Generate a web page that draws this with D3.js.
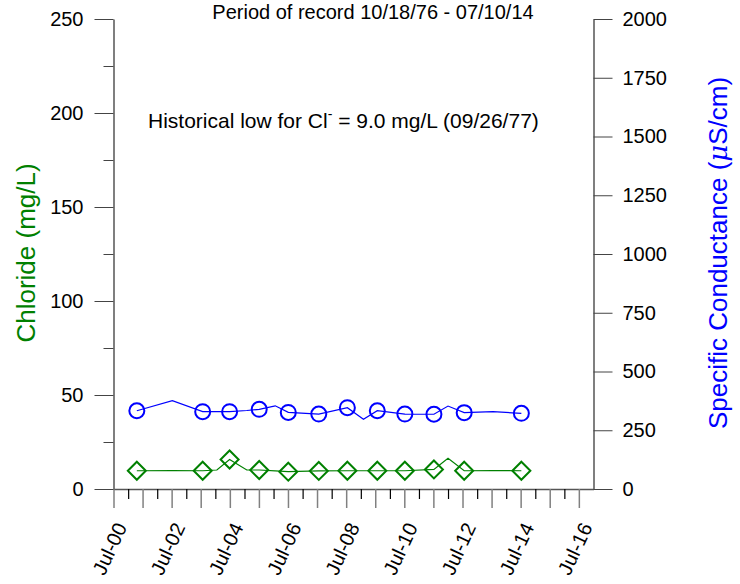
<!DOCTYPE html>
<html>
<head>
<meta charset="utf-8">
<script src="https://cdn.jsdelivr.net/npm/d3@7"></script>
<style>
  body { margin: 0; background: #fff; }
  text { font-family: "Liberation Sans", Arial, sans-serif; }
</style>
</head>
<body>
<svg id="chart" width="740" height="584"></svg>
<script>
// sample data
var sampleDates = ["2001-04-20", "2002-07-10", "2003-07-26", "2004-01-20", "2004-06-28", "2005-01-30",
  "2005-07-05", "2006-01-22", "2006-07-05", "2007-07-23", "2008-07-16", "2009-02-03", "2009-07-27",
  "2010-07-08", "2011-07-08", "2012-01-01", "2012-07-22", "2013-07-18", "2014-07-10"];
var chlorideValues = [9.7, 9.8, 9.7, 10.1, 15.7, 10.1, 10.1, 9.6, 9.2, 9.6, 9.7, 9.7, 9.7, 9.7, 10.4, 16.3, 9.7, 9.8, 9.7];
var conductanceValues = [333, 376, 329, 329, 329, 334, 339, 354, 326, 319, 346, 297, 333, 319, 318, 353, 325, 329, 322];
var markedSample = [1, 0, 1, 0, 1, 0, 1, 0, 1, 1, 1, 0, 1, 1, 1, 0, 1, 0, 1];

var leftTicks = [0, 50, 100, 150, 200, 250];
var leftMinorTicks = [25, 75, 125, 175, 225];
var rightTicks = [0, 250, 500, 750, 1000, 1250, 1500, 1750, 2000];
var xLabelYears = [2000, 2002, 2004, 2006, 2008, 2010, 2012, 2014, 2016];

var parse = d3.timeParse("%Y-%m-%d");
var data = sampleDates.map(function(d, i) {
  return {date: parse(d), cl: chlorideValues[i], sc: conductanceValues[i], mark: markedSample[i]};
});

var svg = d3.select("#chart"),
    plotLeft = 113.5, plotRight = 593.5, plotTop = 19, plotBottom = 489;

var x = d3.scaleTime()
    .domain([new Date(2000, 6, 1), new Date(2017, 0, 1)])
    .range([plotLeft, plotRight]);
var yL = d3.scaleLinear().domain([0, 250]).range([plotBottom, plotTop]);
var yR = d3.scaleLinear().domain([0, 2000]).range([plotBottom, plotTop]);

var green = "#008000", blue = "#0000ff";

// bottom axis: long ticks each July, short each January
var julys = d3.range(2000, 2017).map(function(y) { return new Date(y, 6, 1); });
var januarys = d3.range(2001, 2017).map(function(y) { return new Date(y, 0, 1); });
var gB = svg.append("g").attr("transform", "translate(0," + plotBottom + ")");
var gBmajor = gB.append("g").call(d3.axisBottom(x).tickValues(julys).tickSize(19).tickFormat("").tickSizeOuter(0));
var gBminor = gB.append("g").call(d3.axisBottom(x).tickValues(januarys).tickSize(10).tickFormat(""));
gBminor.select(".domain").remove();
gBmajor.selectAll(".tick line").attr("stroke", "#808080").attr("stroke-width", 1.5);
gBminor.selectAll(".tick line").attr("stroke", "#000").attr("stroke-width", 1.2);

// left axis
var gL = svg.append("g").attr("transform", "translate(" + plotLeft + ",0)");
gL.call(d3.axisLeft(yL).tickValues(leftTicks).tickSize(19).tickPadding(11).tickSizeOuter(0));
gL.append("g").call(d3.axisLeft(yL).tickValues(leftMinorTicks).tickSize(10).tickFormat(""))
  .select(".domain").remove();

// right axis
var gR = svg.append("g").attr("transform", "translate(" + plotRight + ",0)");
gR.call(d3.axisRight(yR).tickValues(rightTicks).tickFormat(d3.format("d"))
  .tickSize(19).tickPadding(10).tickSizeOuter(0));

svg.selectAll(".domain").attr("stroke", "#555").attr("stroke-width", 1.5);
gL.selectAll(".tick line").attr("stroke", "#444");
gR.selectAll(".tick line").attr("stroke", "#444");
svg.selectAll(".tick text").attr("font-size", 20).attr("fill", "#000")
  .attr("font-family", "Liberation Sans, Arial, sans-serif");

// rotated date labels
svg.append("g").selectAll("text")
  .data(xLabelYears)
  .enter().append("text")
    .attr("transform", function(d) { return "translate(" + (x(new Date(d, 6, 1)) + 14) + ",527) rotate(-65)"; })
    .attr("text-anchor", "end")
    .attr("font-size", 20)
    .text(function(d) { return "Jul-" + d3.format("02")(d % 100); });

// lines
svg.append("path").datum(data)
  .attr("fill", "none").attr("stroke", green).attr("stroke-width", 1.2)
  .attr("d", d3.line().x(function(d) { return x(d.date); }).y(function(d) { return yL(d.cl); }));
svg.append("path").datum(data)
  .attr("fill", "none").attr("stroke", blue).attr("stroke-width", 1.2)
  .attr("d", d3.line().x(function(d) { return x(d.date); }).y(function(d) { return yR(d.sc); }));

var marked = data.filter(function(d) { return d.mark; });

// diamonds
svg.append("g").selectAll("path")
  .data(marked)
  .enter().append("path")
    .attr("transform", function(d) { return "translate(" + x(d.date) + "," + yL(d.cl) + ")"; })
    .attr("d", "M0,-9L9,0L0,9L-9,0Z")
    .attr("fill", "none").attr("stroke", green).attr("stroke-width", 2);

// circles
svg.append("g").selectAll("circle")
  .data(marked)
  .enter().append("circle")
    .attr("cx", function(d) { return x(d.date); })
    .attr("cy", function(d) { return yR(d.sc); })
    .attr("r", 7.5)
    .attr("fill", "none").attr("stroke", blue).attr("stroke-width", 2);

// axis titles
svg.append("text")
  .attr("transform", "translate(35,253) rotate(-90)")
  .attr("text-anchor", "middle").attr("font-size", 26).attr("fill", green)
  .text("Chloride (mg/L)");

var rt = svg.append("text")
  .attr("transform", "translate(727,253) rotate(-90)")
  .attr("text-anchor", "middle").attr("font-size", 26).attr("fill", blue);
rt.append("tspan").text("Specific Conductance (");
rt.append("tspan").attr("font-style", "italic").attr("font-family", "DejaVu Serif, serif").attr("font-weight", 300).text("\u03bc");
rt.append("tspan").text("S/cm)");

// annotations
svg.append("text")
  .attr("x", 373).attr("y", 19)
  .attr("text-anchor", "middle").attr("font-size", 20)
  .text("Period of record 10/18/76 - 07/10/14");

var note = svg.append("text")
  .attr("x", 148).attr("y", 128)
  .attr("font-size", 21);
note.append("tspan").text("Historical low for Cl");
note.append("tspan").attr("dy", -9).attr("font-size", 14).text("-");
note.append("tspan").attr("dy", 9).text(" = 9.0 mg/L (09/26/77)");
</script>
</body>
</html>
